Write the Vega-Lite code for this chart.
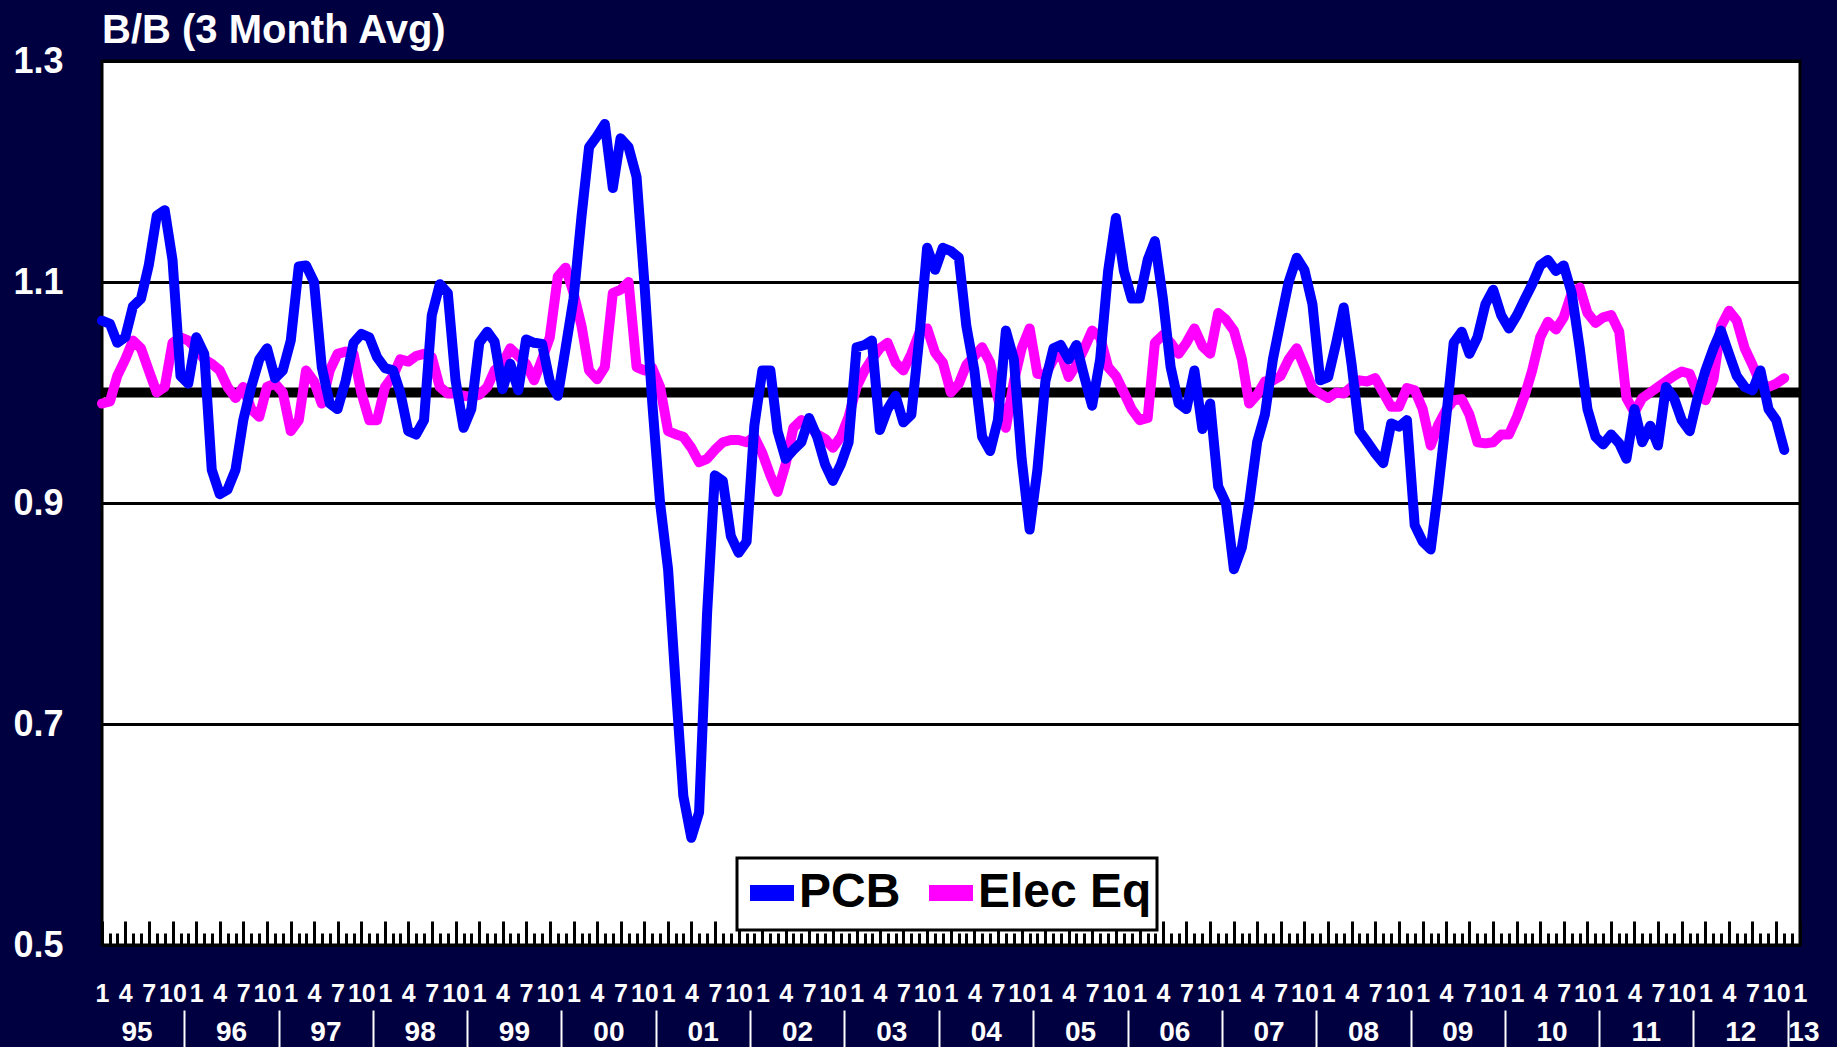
{
  "$schema": "https://vega.github.io/schema/vega-lite/v6.json",
  "width": 1698,
  "height": 884,
  "autosize": {"type": "none"},
  "padding": {"left": 102, "top": 61, "right": 37, "bottom": 102},
  "background": "#000040",
  "title": {"text": "B/B (3 Month Avg)", "anchor": "start", "frame": "group", "offset": -8, "fontSize": 40, "font": "Liberation Sans", "fontWeight": "bold", "color": "white"},
  "config": {
    "view": {"stroke": "black", "strokeWidth": 3, "fill": "white"},
    "axis": {"labelFont": "Liberation Sans", "labelFontWeight": "bold", "labelColor": "white", "title": null},
    "legend": {"strokeWidth": 3}
  },
  "data": {"values": [
    {"d":"1995-01-01","PCB":1.065,"Elec Eq":0.99},
    {"d":"1995-02-01","PCB":1.062,"Elec Eq":0.992},
    {"d":"1995-03-01","PCB":1.045,"Elec Eq":1.015},
    {"d":"1995-04-01","PCB":1.05,"Elec Eq":1.03},
    {"d":"1995-05-01","PCB":1.078,"Elec Eq":1.047},
    {"d":"1995-06-01","PCB":1.085,"Elec Eq":1.04},
    {"d":"1995-07-01","PCB":1.115,"Elec Eq":1.02},
    {"d":"1995-08-01","PCB":1.16,"Elec Eq":1.0},
    {"d":"1995-09-01","PCB":1.165,"Elec Eq":1.005},
    {"d":"1995-10-01","PCB":1.12,"Elec Eq":1.045},
    {"d":"1995-11-01","PCB":1.015,"Elec Eq":1.05},
    {"d":"1995-12-01","PCB":1.008,"Elec Eq":1.047},
    {"d":"1996-01-01","PCB":1.05,"Elec Eq":1.04},
    {"d":"1996-02-01","PCB":1.035,"Elec Eq":1.03},
    {"d":"1996-03-01","PCB":0.93,"Elec Eq":1.026},
    {"d":"1996-04-01","PCB":0.908,"Elec Eq":1.02},
    {"d":"1996-05-01","PCB":0.912,"Elec Eq":1.005},
    {"d":"1996-06-01","PCB":0.93,"Elec Eq":0.995},
    {"d":"1996-07-01","PCB":0.975,"Elec Eq":1.005},
    {"d":"1996-08-01","PCB":1.005,"Elec Eq":0.985},
    {"d":"1996-09-01","PCB":1.03,"Elec Eq":0.978},
    {"d":"1996-10-01","PCB":1.04,"Elec Eq":1.005},
    {"d":"1996-11-01","PCB":1.013,"Elec Eq":1.008},
    {"d":"1996-12-01","PCB":1.02,"Elec Eq":1.0},
    {"d":"1997-01-01","PCB":1.047,"Elec Eq":0.965},
    {"d":"1997-02-01","PCB":1.114,"Elec Eq":0.975},
    {"d":"1997-03-01","PCB":1.115,"Elec Eq":1.02},
    {"d":"1997-04-01","PCB":1.1,"Elec Eq":1.01},
    {"d":"1997-05-01","PCB":1.023,"Elec Eq":0.99},
    {"d":"1997-06-01","PCB":0.99,"Elec Eq":1.02},
    {"d":"1997-07-01","PCB":0.985,"Elec Eq":1.035},
    {"d":"1997-08-01","PCB":1.01,"Elec Eq":1.037},
    {"d":"1997-09-01","PCB":1.045,"Elec Eq":1.035},
    {"d":"1997-10-01","PCB":1.053,"Elec Eq":1.0},
    {"d":"1997-11-01","PCB":1.05,"Elec Eq":0.975},
    {"d":"1997-12-01","PCB":1.032,"Elec Eq":0.975},
    {"d":"1998-01-01","PCB":1.022,"Elec Eq":1.005},
    {"d":"1998-02-01","PCB":1.02,"Elec Eq":1.015},
    {"d":"1998-03-01","PCB":1.0,"Elec Eq":1.03},
    {"d":"1998-04-01","PCB":0.965,"Elec Eq":1.028},
    {"d":"1998-05-01","PCB":0.962,"Elec Eq":1.033},
    {"d":"1998-06-01","PCB":0.975,"Elec Eq":1.035},
    {"d":"1998-07-01","PCB":1.07,"Elec Eq":1.032},
    {"d":"1998-08-01","PCB":1.098,"Elec Eq":1.005},
    {"d":"1998-09-01","PCB":1.09,"Elec Eq":0.999},
    {"d":"1998-10-01","PCB":1.011,"Elec Eq":0.999},
    {"d":"1998-11-01","PCB":0.968,"Elec Eq":0.997},
    {"d":"1998-12-01","PCB":0.985,"Elec Eq":0.996},
    {"d":"1999-01-01","PCB":1.045,"Elec Eq":0.998},
    {"d":"1999-02-01","PCB":1.055,"Elec Eq":1.005},
    {"d":"1999-03-01","PCB":1.046,"Elec Eq":1.02},
    {"d":"1999-04-01","PCB":1.003,"Elec Eq":1.026},
    {"d":"1999-05-01","PCB":1.026,"Elec Eq":1.04},
    {"d":"1999-06-01","PCB":1.002,"Elec Eq":1.033},
    {"d":"1999-07-01","PCB":1.048,"Elec Eq":1.026},
    {"d":"1999-08-01","PCB":1.045,"Elec Eq":1.011},
    {"d":"1999-09-01","PCB":1.044,"Elec Eq":1.03},
    {"d":"1999-10-01","PCB":1.01,"Elec Eq":1.05},
    {"d":"1999-11-01","PCB":0.997,"Elec Eq":1.105},
    {"d":"1999-12-01","PCB":1.04,"Elec Eq":1.113},
    {"d":"2000-01-01","PCB":1.085,"Elec Eq":1.09},
    {"d":"2000-02-01","PCB":1.16,"Elec Eq":1.06},
    {"d":"2000-03-01","PCB":1.222,"Elec Eq":1.02},
    {"d":"2000-04-01","PCB":1.232,"Elec Eq":1.012},
    {"d":"2000-05-01","PCB":1.243,"Elec Eq":1.023},
    {"d":"2000-06-01","PCB":1.185,"Elec Eq":1.09},
    {"d":"2000-07-01","PCB":1.23,"Elec Eq":1.093},
    {"d":"2000-08-01","PCB":1.222,"Elec Eq":1.1},
    {"d":"2000-09-01","PCB":1.195,"Elec Eq":1.023},
    {"d":"2000-10-01","PCB":1.1,"Elec Eq":1.02},
    {"d":"2000-11-01","PCB":0.99,"Elec Eq":1.022},
    {"d":"2000-12-01","PCB":0.9,"Elec Eq":1.005},
    {"d":"2001-01-01","PCB":0.84,"Elec Eq":0.965},
    {"d":"2001-02-01","PCB":0.73,"Elec Eq":0.962},
    {"d":"2001-03-01","PCB":0.635,"Elec Eq":0.96},
    {"d":"2001-04-01","PCB":0.597,"Elec Eq":0.95},
    {"d":"2001-05-01","PCB":0.62,"Elec Eq":0.937},
    {"d":"2001-06-01","PCB":0.8,"Elec Eq":0.94},
    {"d":"2001-07-01","PCB":0.925,"Elec Eq":0.948},
    {"d":"2001-08-01","PCB":0.92,"Elec Eq":0.955},
    {"d":"2001-09-01","PCB":0.87,"Elec Eq":0.957},
    {"d":"2001-10-01","PCB":0.855,"Elec Eq":0.957},
    {"d":"2001-11-01","PCB":0.865,"Elec Eq":0.955},
    {"d":"2001-12-01","PCB":0.97,"Elec Eq":0.96},
    {"d":"2002-01-01","PCB":1.02,"Elec Eq":0.945},
    {"d":"2002-02-01","PCB":1.02,"Elec Eq":0.925},
    {"d":"2002-03-01","PCB":0.965,"Elec Eq":0.91},
    {"d":"2002-04-01","PCB":0.94,"Elec Eq":0.935},
    {"d":"2002-05-01","PCB":0.948,"Elec Eq":0.968},
    {"d":"2002-06-01","PCB":0.955,"Elec Eq":0.975},
    {"d":"2002-07-01","PCB":0.977,"Elec Eq":0.97},
    {"d":"2002-08-01","PCB":0.96,"Elec Eq":0.962},
    {"d":"2002-09-01","PCB":0.935,"Elec Eq":0.958},
    {"d":"2002-10-01","PCB":0.92,"Elec Eq":0.95},
    {"d":"2002-11-01","PCB":0.935,"Elec Eq":0.96},
    {"d":"2002-12-01","PCB":0.955,"Elec Eq":0.978},
    {"d":"2003-01-01","PCB":1.041,"Elec Eq":1.005},
    {"d":"2003-02-01","PCB":1.043,"Elec Eq":1.02},
    {"d":"2003-03-01","PCB":1.047,"Elec Eq":1.03},
    {"d":"2003-04-01","PCB":0.966,"Elec Eq":1.04},
    {"d":"2003-05-01","PCB":0.985,"Elec Eq":1.045},
    {"d":"2003-06-01","PCB":0.997,"Elec Eq":1.027},
    {"d":"2003-07-01","PCB":0.973,"Elec Eq":1.02},
    {"d":"2003-08-01","PCB":0.98,"Elec Eq":1.035},
    {"d":"2003-09-01","PCB":1.05,"Elec Eq":1.054},
    {"d":"2003-10-01","PCB":1.131,"Elec Eq":1.058},
    {"d":"2003-11-01","PCB":1.111,"Elec Eq":1.036},
    {"d":"2003-12-01","PCB":1.131,"Elec Eq":1.027},
    {"d":"2004-01-01","PCB":1.128,"Elec Eq":1.0},
    {"d":"2004-02-01","PCB":1.122,"Elec Eq":1.008},
    {"d":"2004-03-01","PCB":1.06,"Elec Eq":1.025},
    {"d":"2004-04-01","PCB":1.02,"Elec Eq":1.033},
    {"d":"2004-05-01","PCB":0.96,"Elec Eq":1.041},
    {"d":"2004-06-01","PCB":0.947,"Elec Eq":1.027},
    {"d":"2004-07-01","PCB":0.975,"Elec Eq":0.995},
    {"d":"2004-08-01","PCB":1.056,"Elec Eq":0.968},
    {"d":"2004-09-01","PCB":1.03,"Elec Eq":1.01},
    {"d":"2004-10-01","PCB":0.94,"Elec Eq":1.04},
    {"d":"2004-11-01","PCB":0.876,"Elec Eq":1.058},
    {"d":"2004-12-01","PCB":0.93,"Elec Eq":1.017},
    {"d":"2005-01-01","PCB":1.01,"Elec Eq":1.016},
    {"d":"2005-02-01","PCB":1.04,"Elec Eq":1.03},
    {"d":"2005-03-01","PCB":1.043,"Elec Eq":1.036},
    {"d":"2005-04-01","PCB":1.03,"Elec Eq":1.014},
    {"d":"2005-05-01","PCB":1.043,"Elec Eq":1.025},
    {"d":"2005-06-01","PCB":1.014,"Elec Eq":1.04},
    {"d":"2005-07-01","PCB":0.988,"Elec Eq":1.056},
    {"d":"2005-08-01","PCB":1.03,"Elec Eq":1.05},
    {"d":"2005-09-01","PCB":1.11,"Elec Eq":1.023},
    {"d":"2005-10-01","PCB":1.158,"Elec Eq":1.015},
    {"d":"2005-11-01","PCB":1.11,"Elec Eq":1.0},
    {"d":"2005-12-01","PCB":1.085,"Elec Eq":0.985},
    {"d":"2006-01-01","PCB":1.085,"Elec Eq":0.975},
    {"d":"2006-02-01","PCB":1.12,"Elec Eq":0.977},
    {"d":"2006-03-01","PCB":1.137,"Elec Eq":1.045},
    {"d":"2006-04-01","PCB":1.085,"Elec Eq":1.052},
    {"d":"2006-05-01","PCB":1.023,"Elec Eq":1.045},
    {"d":"2006-06-01","PCB":0.99,"Elec Eq":1.035},
    {"d":"2006-07-01","PCB":0.985,"Elec Eq":1.045},
    {"d":"2006-08-01","PCB":1.02,"Elec Eq":1.058},
    {"d":"2006-09-01","PCB":0.967,"Elec Eq":1.042},
    {"d":"2006-10-01","PCB":0.99,"Elec Eq":1.035},
    {"d":"2006-11-01","PCB":0.915,"Elec Eq":1.072},
    {"d":"2006-12-01","PCB":0.9,"Elec Eq":1.066},
    {"d":"2007-01-01","PCB":0.84,"Elec Eq":1.056},
    {"d":"2007-02-01","PCB":0.86,"Elec Eq":1.03},
    {"d":"2007-03-01","PCB":0.9,"Elec Eq":0.99},
    {"d":"2007-04-01","PCB":0.955,"Elec Eq":0.998},
    {"d":"2007-05-01","PCB":0.98,"Elec Eq":1.01},
    {"d":"2007-06-01","PCB":1.03,"Elec Eq":1.011},
    {"d":"2007-07-01","PCB":1.065,"Elec Eq":1.015},
    {"d":"2007-08-01","PCB":1.1,"Elec Eq":1.03},
    {"d":"2007-09-01","PCB":1.122,"Elec Eq":1.04},
    {"d":"2007-10-01","PCB":1.111,"Elec Eq":1.023},
    {"d":"2007-11-01","PCB":1.08,"Elec Eq":1.004},
    {"d":"2007-12-01","PCB":1.011,"Elec Eq":0.999},
    {"d":"2008-01-01","PCB":1.014,"Elec Eq":0.995},
    {"d":"2008-02-01","PCB":1.045,"Elec Eq":1.0},
    {"d":"2008-03-01","PCB":1.077,"Elec Eq":0.999},
    {"d":"2008-04-01","PCB":1.025,"Elec Eq":1.005},
    {"d":"2008-05-01","PCB":0.965,"Elec Eq":1.011},
    {"d":"2008-06-01","PCB":0.955,"Elec Eq":1.01},
    {"d":"2008-07-01","PCB":0.945,"Elec Eq":1.013},
    {"d":"2008-08-01","PCB":0.936,"Elec Eq":1.0},
    {"d":"2008-09-01","PCB":0.972,"Elec Eq":0.987},
    {"d":"2008-10-01","PCB":0.969,"Elec Eq":0.987},
    {"d":"2008-11-01","PCB":0.975,"Elec Eq":1.004},
    {"d":"2008-12-01","PCB":0.88,"Elec Eq":1.002},
    {"d":"2009-01-01","PCB":0.865,"Elec Eq":0.985},
    {"d":"2009-02-01","PCB":0.858,"Elec Eq":0.952},
    {"d":"2009-03-01","PCB":0.91,"Elec Eq":0.97},
    {"d":"2009-04-01","PCB":0.975,"Elec Eq":0.984},
    {"d":"2009-05-01","PCB":1.045,"Elec Eq":0.993},
    {"d":"2009-06-01","PCB":1.055,"Elec Eq":0.994},
    {"d":"2009-07-01","PCB":1.035,"Elec Eq":0.98},
    {"d":"2009-08-01","PCB":1.05,"Elec Eq":0.955},
    {"d":"2009-09-01","PCB":1.08,"Elec Eq":0.954},
    {"d":"2009-10-01","PCB":1.093,"Elec Eq":0.955},
    {"d":"2009-11-01","PCB":1.07,"Elec Eq":0.962},
    {"d":"2009-12-01","PCB":1.058,"Elec Eq":0.962},
    {"d":"2010-01-01","PCB":1.07,"Elec Eq":0.978},
    {"d":"2010-02-01","PCB":1.085,"Elec Eq":0.998},
    {"d":"2010-03-01","PCB":1.098,"Elec Eq":1.02},
    {"d":"2010-04-01","PCB":1.115,"Elec Eq":1.05},
    {"d":"2010-05-01","PCB":1.12,"Elec Eq":1.064},
    {"d":"2010-06-01","PCB":1.11,"Elec Eq":1.057},
    {"d":"2010-07-01","PCB":1.115,"Elec Eq":1.068},
    {"d":"2010-08-01","PCB":1.09,"Elec Eq":1.09},
    {"d":"2010-09-01","PCB":1.04,"Elec Eq":1.095},
    {"d":"2010-10-01","PCB":0.985,"Elec Eq":1.072},
    {"d":"2010-11-01","PCB":0.96,"Elec Eq":1.063},
    {"d":"2010-12-01","PCB":0.953,"Elec Eq":1.068},
    {"d":"2011-01-01","PCB":0.962,"Elec Eq":1.07},
    {"d":"2011-02-01","PCB":0.954,"Elec Eq":1.055},
    {"d":"2011-03-01","PCB":0.94,"Elec Eq":0.995},
    {"d":"2011-04-01","PCB":0.985,"Elec Eq":0.982},
    {"d":"2011-05-01","PCB":0.955,"Elec Eq":0.995},
    {"d":"2011-06-01","PCB":0.97,"Elec Eq":1.0},
    {"d":"2011-07-01","PCB":0.952,"Elec Eq":1.005},
    {"d":"2011-08-01","PCB":1.005,"Elec Eq":1.01},
    {"d":"2011-09-01","PCB":0.995,"Elec Eq":1.015},
    {"d":"2011-10-01","PCB":0.975,"Elec Eq":1.019},
    {"d":"2011-11-01","PCB":0.965,"Elec Eq":1.017},
    {"d":"2011-12-01","PCB":0.995,"Elec Eq":0.999},
    {"d":"2012-01-01","PCB":1.02,"Elec Eq":0.993},
    {"d":"2012-02-01","PCB":1.04,"Elec Eq":1.012},
    {"d":"2012-03-01","PCB":1.056,"Elec Eq":1.06},
    {"d":"2012-04-01","PCB":1.035,"Elec Eq":1.074},
    {"d":"2012-05-01","PCB":1.015,"Elec Eq":1.065},
    {"d":"2012-06-01","PCB":1.005,"Elec Eq":1.04},
    {"d":"2012-07-01","PCB":1.002,"Elec Eq":1.025},
    {"d":"2012-08-01","PCB":1.02,"Elec Eq":1.008},
    {"d":"2012-09-01","PCB":0.985,"Elec Eq":1.005},
    {"d":"2012-10-01","PCB":0.975,"Elec Eq":1.008},
    {"d":"2012-11-01","PCB":0.948,"Elec Eq":1.013}
  ]},
  "layer": [
    {
      "data": {"values": [{"from": "1995-01-01", "to": "2013-01-01", "level": 1}]},
      "mark": {"type": "rule", "color": "black", "strokeWidth": 10, "strokeCap": "butt"},
      "encoding": {
        "x": {
          "field": "from", "type": "temporal",
          "scale": {"type": "utc", "domain": [{"year": 1995, "month": 1, "date": 1, "utc": true}, {"year": 2013, "month": 1, "date": 1, "utc": true}]},
          "axis": {
            "orient": "bottom",
            "tickCount": {"interval": "month", "step": 1},
            "grid": false, "domain": false,
            "ticks": true, "tickColor": "black", "tickWidth": 3,
            "tickSize": {"condition": {"test": "utcmonth(datum.value) % 3 == 0", "value": -24}, "value": -12},
            "labelExpr": "utcmonth(datum.value) % 3 == 0 ? '' + (utcmonth(datum.value) + 1) : ''",
            "labelFontSize": 25, "labelOverlap": false, "labelFlush": false,
            "labelAlign": "center", "labelBaseline": "middle", "labelPadding": 72
          }
        },
        "x2": {"field": "to"},
        "y": {
          "field": "level", "type": "quantitative",
          "scale": {"domain": [0.5, 1.3], "nice": false, "zero": false},
          "axis": {
            "values": [0.5, 0.7, 0.9, 1.1, 1.3], "format": ".1f",
            "grid": true, "gridColor": "black", "gridWidth": 3,
            "ticks": false, "domain": false,
            "labelFontSize": 36, "labelPadding": 39, "labelBaseline": "middle", "labelFlush": false
          }
        }
      }
    },
    {
      "transform": [{"fold": ["PCB", "Elec Eq"], "as": ["series", "value"]}, {"filter": "datum.series == 'Elec Eq'"}],
      "mark": {"type": "line", "strokeWidth": 10, "strokeJoin": "round", "strokeCap": "round"},
      "encoding": {
        "x": {
          "field": "d", "type": "temporal",
          "scale": {"type": "utc"},
          "axis": {
            "orient": "bottom",
            "values": [
              {"year": 1995, "month": 5, "date": 15, "utc": true}, {"year": 1996, "month": 5, "date": 15, "utc": true},
              {"year": 1997, "month": 5, "date": 15, "utc": true}, {"year": 1998, "month": 5, "date": 15, "utc": true},
              {"year": 1999, "month": 5, "date": 15, "utc": true}, {"year": 2000, "month": 5, "date": 15, "utc": true},
              {"year": 2001, "month": 5, "date": 15, "utc": true}, {"year": 2002, "month": 5, "date": 15, "utc": true},
              {"year": 2003, "month": 5, "date": 15, "utc": true}, {"year": 2004, "month": 5, "date": 15, "utc": true},
              {"year": 2005, "month": 5, "date": 15, "utc": true}, {"year": 2006, "month": 5, "date": 15, "utc": true},
              {"year": 2007, "month": 5, "date": 15, "utc": true}, {"year": 2008, "month": 5, "date": 15, "utc": true},
              {"year": 2009, "month": 5, "date": 15, "utc": true}, {"year": 2010, "month": 5, "date": 15, "utc": true},
              {"year": 2011, "month": 5, "date": 15, "utc": true}, {"year": 2012, "month": 5, "date": 15, "utc": true},
              {"year": 2012, "month": 11, "date": 15, "utc": true}
            ],
            "grid": false, "domain": false, "ticks": false,
            "labelExpr": "utcmonth(datum.value) == 10 ? '13' : utcFormat(datum.value, '%y')",
            "labelAlign": {"condition": {"test": "utcmonth(datum.value) == 10", "value": "left"}, "value": "center"},
            "labelFontSize": 28, "labelOverlap": false, "labelFlush": false,
            "labelBaseline": "middle", "labelPadding": 87
          }
        },
        "y": {"field": "value", "type": "quantitative", "scale": {"domain": [0.5, 1.3], "nice": false, "zero": false}, "axis": null},
        "color": {
          "field": "series", "type": "nominal",
          "scale": {"domain": ["PCB", "Elec Eq"], "range": ["#0000FF", "#FF00FF"]},
          "legend": {
            "orient": "none", "legendX": 635, "legendY": 797, "direction": "horizontal", "title": null,
            "symbolType": "stroke", "symbolStrokeWidth": 16, "symbolSize": 1936,
            "labelFont": "Liberation Sans", "labelFontWeight": "bold", "labelFontSize": 48, "labelColor": "black", "labelLimit": 400,
            "labelOffset": -3, "columnPadding": -4, "padding": 5,
            "fillColor": "white", "strokeColor": "black"
          }
        }
      }
    },
    {
      "transform": [{"fold": ["PCB", "Elec Eq"], "as": ["series", "value"]}, {"filter": "datum.series == 'PCB'"}],
      "mark": {"type": "line", "strokeWidth": 10, "strokeJoin": "round", "strokeCap": "round"},
      "encoding": {
        "x": {
          "field": "d", "type": "temporal",
          "scale": {"type": "utc"},
          "axis": {
            "orient": "bottom", "offset": 65,
            "values": [
              {"year": 1995, "month": 11, "date": 15, "utc": true}, {"year": 1996, "month": 11, "date": 15, "utc": true},
              {"year": 1997, "month": 11, "date": 15, "utc": true}, {"year": 1998, "month": 11, "date": 15, "utc": true},
              {"year": 1999, "month": 11, "date": 15, "utc": true}, {"year": 2000, "month": 11, "date": 15, "utc": true},
              {"year": 2001, "month": 11, "date": 15, "utc": true}, {"year": 2002, "month": 11, "date": 15, "utc": true},
              {"year": 2003, "month": 11, "date": 15, "utc": true}, {"year": 2004, "month": 11, "date": 15, "utc": true},
              {"year": 2005, "month": 11, "date": 15, "utc": true}, {"year": 2006, "month": 11, "date": 15, "utc": true},
              {"year": 2007, "month": 11, "date": 15, "utc": true}, {"year": 2008, "month": 11, "date": 15, "utc": true},
              {"year": 2009, "month": 11, "date": 15, "utc": true}, {"year": 2010, "month": 11, "date": 15, "utc": true},
              {"year": 2011, "month": 11, "date": 15, "utc": true}, {"year": 2012, "month": 11, "date": 15, "utc": true}
            ],
            "grid": false, "domain": false, "labels": false,
            "ticks": true, "tickSize": 37, "tickColor": "white", "tickWidth": 2
          }
        },
        "y": {"field": "value", "type": "quantitative", "scale": {"domain": [0.5, 1.3], "nice": false, "zero": false}, "axis": null},
        "color": {
          "field": "series", "type": "nominal",
          "scale": {"domain": ["PCB", "Elec Eq"], "range": ["#0000FF", "#FF00FF"]},
          "legend": {
            "orient": "none", "legendX": 635, "legendY": 797, "direction": "horizontal", "title": null,
            "symbolType": "stroke", "symbolStrokeWidth": 16, "symbolSize": 1936,
            "labelFont": "Liberation Sans", "labelFontWeight": "bold", "labelFontSize": 48, "labelColor": "black", "labelLimit": 400,
            "labelOffset": -3, "columnPadding": -4, "padding": 5,
            "fillColor": "white", "strokeColor": "black"
          }
        }
      }
    }
  ],
  "resolve": {"axis": {"x": "independent", "y": "independent"}}
}
